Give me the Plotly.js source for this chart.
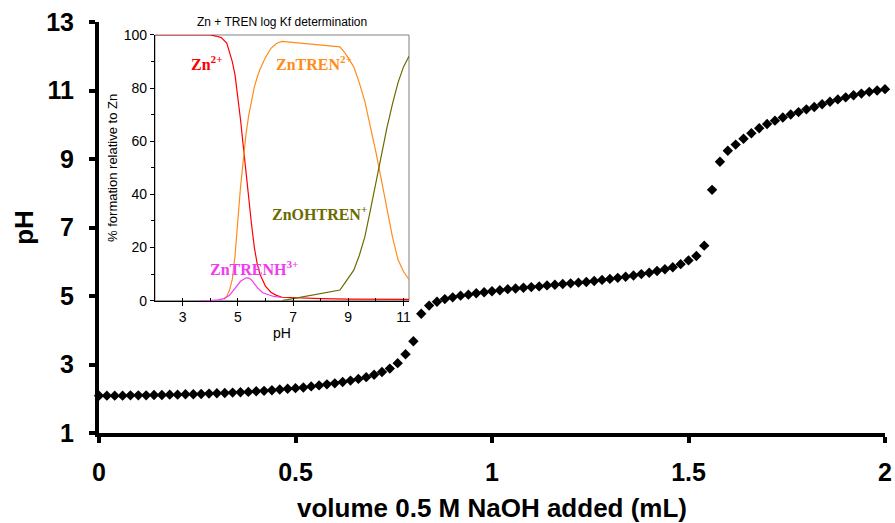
<!DOCTYPE html>
<html>
<head>
<meta charset="utf-8">
<script src="https://cdn.plot.ly/plotly-3.0.1.min.js"></script>
<style>html,body{margin:0;padding:0;background:#fff;}#chart{width:895px;height:523px;}</style>
</head>
<body>
<div id="chart"></div>
<script>
// Main titration curve: volume of 0.5 M NaOH (mL) vs pH
const volume = [0.00,0.02,0.04,0.06,0.08,0.10,0.12,0.14,0.16,0.18,0.20,0.22,0.24,0.26,0.28,0.30,0.32,0.34,0.36,0.38,0.40,0.42,0.44,0.46,0.48,0.50,0.52,0.54,0.56,0.58,0.60,0.62,0.64,0.66,0.68,0.70,0.72,0.74,0.76,0.78,0.80,0.82,0.84,0.86,0.88,0.90,0.92,0.94,0.96,0.98,1.00,1.02,1.04,1.06,1.08,1.10,1.12,1.14,1.16,1.18,1.20,1.22,1.24,1.26,1.28,1.30,1.32,1.34,1.36,1.38,1.40,1.42,1.44,1.46,1.48,1.50,1.52,1.54,1.56,1.58,1.60,1.62,1.64,1.66,1.68,1.70,1.72,1.74,1.76,1.78,1.80,1.82,1.84,1.86,1.88,1.90,1.92,1.94,1.96,1.98,2.00];
const pH = [2.09,2.09,2.09,2.09,2.10,2.10,2.10,2.11,2.11,2.12,2.12,2.13,2.13,2.14,2.15,2.16,2.17,2.18,2.19,2.20,2.22,2.23,2.25,2.27,2.29,2.31,2.33,2.36,2.39,2.42,2.45,2.49,2.53,2.58,2.63,2.70,2.78,2.88,3.04,3.30,3.68,4.48,4.72,4.83,4.91,4.96,5.01,5.04,5.08,5.11,5.14,5.17,5.20,5.22,5.24,5.26,5.28,5.31,5.33,5.35,5.37,5.39,5.41,5.44,5.47,5.50,5.53,5.56,5.60,5.64,5.68,5.73,5.78,5.84,5.93,6.04,6.17,6.47,8.10,8.92,9.24,9.42,9.59,9.75,9.90,10.02,10.12,10.21,10.30,10.37,10.45,10.52,10.60,10.67,10.74,10.80,10.86,10.91,10.96,11.00,11.04];

// Inset: speciation (% formation relative to Zn) vs pH
const znPH  = [2.0,3.0,4.0,4.2,4.4,4.6,4.8,4.9,5.0,5.1,5.2,5.3,5.4,5.5,5.6,5.7,5.8,6.0,6.2,6.4,6.6,7.0,8.0,9.0,10.0,11.2];
const znPct = [100,100,100,99.6,99,97,90,85,77,68,58,48,37,28.5,20,14,10,5.5,3.2,2.0,1.3,1.1,0.8,0.6,0.5,0.5];

const znTrenPH  = [4.5,4.6,4.7,4.8,4.9,5.0,5.1,5.2,5.3,5.4,5.5,5.6,5.7,5.8,6.0,6.2,6.4,6.6,8.7,8.9,9.2,9.4,9.6,9.8,10.0,10.2,10.4,10.6,10.8,11.0,11.2];
const znTrenPct = [0.5,1.6,4,8,17,31,43,53,63,70,76,80.5,84,87,91.5,95,96.8,97.6,95.5,93,88,82,75,66,56,45.5,34.5,24,15.5,11,8];

const znTrenHPH  = [3.6,4.0,4.3,4.5,4.7,4.9,5.1,5.3,5.4,5.5,5.7,5.9,6.1,6.3,6.6];
const znTrenHPct = [0,0,0.3,0.8,2,4.5,7.3,8.6,8.5,7.8,5,3.0,2.2,1.6,1.2];

const znOHTrenPH  = [6.6,8.7,8.9,9.2,9.4,9.6,9.8,10.0,10.2,10.4,10.6,10.8,11.0,11.2];
const znOHTrenPct = [0,4,7,11.5,17,24,34,44.5,55,65,74,82,88,92];

const RED = '#FF0000', ORANGE = '#FF8C1A', MAGENTA = '#F03CF0', OLIVE = '#6B6B00';

const traces = [
  {x: volume, y: pH, type: 'scatter', mode: 'markers', xaxis: 'x', yaxis: 'y',
   marker: {symbol: 'diamond', size: 8, color: '#000'}, cliponaxis: false, hoverinfo: 'x+y'},
  {x: znPH, y: znPct, type: 'scatter', mode: 'lines', xaxis: 'x2', yaxis: 'y2', line: {color: RED, width: 1.2}},
  {x: znTrenPH, y: znTrenPct, type: 'scatter', mode: 'lines', xaxis: 'x2', yaxis: 'y2', line: {color: ORANGE, width: 1.2}},
  {x: znTrenHPH, y: znTrenHPct, type: 'scatter', mode: 'lines', xaxis: 'x2', yaxis: 'y2', line: {color: MAGENTA, width: 1.2}},
  {x: znOHTrenPH, y: znOHTrenPct, type: 'scatter', mode: 'lines', xaxis: 'x2', yaxis: 'y2', line: {color: OLIVE, width: 1.2}}
];

const bold = {family: 'Arial, Liberation Sans, sans-serif', size: 25, color: '#000', weight: 'bold'};
const small = {family: 'Arial, Liberation Sans, sans-serif', size: 14, color: '#000'};
const serif = (c) => ({family: 'Times New Roman, Liberation Serif, serif', size: 16, color: c, weight: 'bold'});

const layout = {
  width: 895, height: 523,
  margin: {l: 99, r: 10, t: 22, b: 90},
  paper_bgcolor: '#fff', plot_bgcolor: 'rgba(0,0,0,0)',
  showlegend: false,
  xaxis: {
    domain: [0, 1], range: [0, 2], tick0: 0, dtick: 0.5,
    showgrid: false, zeroline: false, showline: true, linecolor: '#000', linewidth: 4,
    ticks: 'outside', ticklen: 6, tickwidth: 4, tickcolor: '#000',
    tickfont: bold, ticklabelstandoff: 8,
    title: {text: 'volume 0.5 M NaOH added (mL)', font: {...bold, size: 26}, standoff: 19}
  },
  yaxis: {
    domain: [0, 1], range: [1, 13], tick0: 1, dtick: 2,
    showgrid: false, zeroline: false, showline: true, linecolor: '#000', linewidth: 4,
    ticks: 'outside', ticklen: 6, tickwidth: 4, tickcolor: '#000',
    tickfont: bold, ticklabelstandoff: 10,
    title: {text: 'pH', font: {...bold, size: 26}, standoff: 6}
  },
  xaxis2: {
    domain: [0.0712, 0.3944], range: [2, 11.2], anchor: 'y2', tick0: 3, dtick: 2,
    showgrid: false, zeroline: false, showline: true, linecolor: '#000', linewidth: 1,
    ticks: 'outside', ticklen: 4, tickwidth: 1, tickcolor: '#000',
    minor: {dtick: 1, tick0: 0, ticks: 'inside', ticklen: 3, tickcolor: '#000'},
    tickfont: small,
    title: {text: 'pH', font: small, standoff: 1}
  },
  yaxis2: {
    domain: [0.3219, 0.9684], range: [0, 100], anchor: 'x2', tick0: 0, dtick: 20,
    showgrid: false, zeroline: false, showline: true, linecolor: '#000', linewidth: 1,
    ticks: 'outside', ticklen: 4, tickwidth: 1, tickcolor: '#000',
    minor: {dtick: 10, ticks: 'outside', ticklen: 3, tickcolor: '#000'},
    tickfont: small,
    title: {text: '% formation relative to Zn', font: {...small, size: 13}, standoff: 3}
  },
  shapes: [
    {type: 'rect', xref: 'x2 domain', yref: 'y2 domain', x0: 0, x1: 1, y0: 0, y1: 1,
     line: {color: '#808080', width: 1}, fillcolor: '#fff', layer: 'below'}
  ],
  annotations: [
    {xref: 'x2 domain', yref: 'y2 domain', x: 0.5, y: 1, yanchor: 'bottom', yshift: 4, showarrow: false,
     text: 'Zn + TREN log Kf determination', font: {family: 'Arial, Liberation Sans, sans-serif', size: 12, color: '#000'}},
    {xref: 'x2', yref: 'y2', x: 3.88, y: 89.5, showarrow: false, text: 'Zn<sup>2+</sup>', font: serif(RED)},
    {xref: 'x2', yref: 'y2', x: 7.75, y: 89.5, showarrow: false, text: 'ZnTREN<sup>2+</sup>', font: serif(ORANGE)},
    {xref: 'x2', yref: 'y2', x: 7.96, y: 33, showarrow: false, text: 'ZnOHTREN<sup>+</sup>', font: serif(OLIVE)},
    {xref: 'x2', yref: 'y2', x: 5.57, y: 12.3, showarrow: false, text: 'ZnTRENH<sup>3+</sup>', font: serif(MAGENTA)}
  ]
};

Plotly.newPlot('chart', traces, layout, {displayModeBar: false, staticPlot: true});
</script>
</body>
</html>
